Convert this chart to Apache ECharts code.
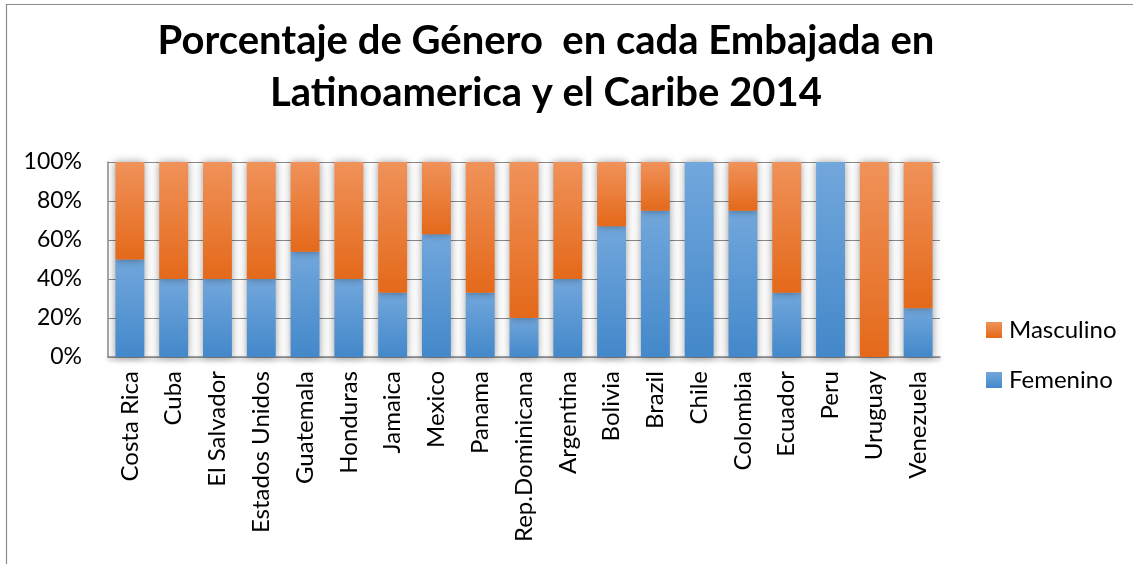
<!DOCTYPE html>
<html>
<head>
<meta charset="utf-8">
<script src="https://cdn.jsdelivr.net/npm/echarts@6/dist/echarts.min.js"></script>
<style>
  html, body { margin: 0; padding: 0; background: #fff; }
  #chart { width: 1133px; height: 564px; }
</style>
</head>
<body>
<div id="chart"></div>
<script>
const countries = ['Costa Rica', 'Cuba', 'El Salvador', 'Estados Unidos', 'Guatemala', 'Honduras',
  'Jamaica', 'Mexico', 'Panama', 'Rep.Dominicana', 'Argentina', 'Bolivia', 'Brazil', 'Chile',
  'Colombia', 'Ecuador', 'Peru', 'Uruguay', 'Venezuela'];
const femenino = [50, 40, 40, 40, 54, 40, 33, 63, 33, 20, 40, 67, 75, 100, 75, 33, 100, 0, 25];
const masculino = [50, 60, 60, 60, 46, 60, 67, 37, 67, 80, 60, 33, 25, 0, 25, 67, 0, 100, 75];
const yTicks = [0, 20, 40, 60, 80, 100];

const font = 'Lato, "Open Sans", sans-serif';

function grad(top, bottom) {
  return new echarts.graphic.LinearGradient(0, 0, 0, 1, [
    { offset: 0, color: top },
    { offset: 1, color: bottom }
  ]);
}

const chart = echarts.init(document.getElementById('chart'));
chart.setOption({
  animation: false,
  graphic: [{
    type: 'rect',
    shape: { x: 6.5, y: 4.5, width: 1200, height: 700 },
    style: { fill: 'none', stroke: '#8c8c8c', lineWidth: 1.2 },
    silent: true
  }],
  title: {
    text: 'Porcentaje de Género  en cada Embajada en\nLatinoamerica y el Caribe 2014',
    left: 541,
    textAlign: 'center',
    top: 10,
    textStyle: { fontFamily: font, fontWeight: 'bold', fontSize: 40, lineHeight: 52, color: '#000' }
  },
  legend: {
    orient: 'vertical',
    left: 981,
    top: 313,
    itemWidth: 16,
    itemHeight: 16,
    itemGap: 26,
    icon: 'rect',
    data: ['Masculino', 'Femenino'],
    textStyle: { fontFamily: font, fontSize: 24, color: '#000', padding: [0, 0, 0, 2] }
  },
  grid: { left: 108, right: 193, top: 162, bottom: 207 },
  xAxis: {
    type: 'category',
    data: countries,
    axisLine: { lineStyle: { color: '#8a8a8a', width: 1.5, shadowColor: 'rgba(0,0,0,0.4)', shadowBlur: 4, shadowOffsetY: 2 } },
    axisTick: { show: false },
    axisLabel: { rotate: 90, fontFamily: font, fontSize: 24, color: '#000', margin: 14, interval: 0 }
  },
  yAxis: {
    type: 'value',
    min: 0,
    max: 100,
    interval: 20,
    axisLine: { show: true, lineStyle: { color: '#8a8a8a', width: 1.5 } },
    axisTick: { show: false },
    axisLabel: { formatter: '{value}%', fontFamily: font, fontSize: 23, color: '#000', margin: 26 },
    splitLine: { lineStyle: { color: '#8a8a8a', width: 1.2 } }
  },
  series: [
    {
      name: 'Femenino',
      type: 'bar',
      stack: 'total',
      barCategoryGap: '34%',
      data: femenino,
      itemStyle: {
        color: grad('#72a7dc', '#4388ca'),
        shadowColor: 'rgba(0,0,0,0.4)',
        shadowBlur: 8
      }
    },
    {
      name: 'Masculino',
      type: 'bar',
      stack: 'total',
      barCategoryGap: '34%',
      data: masculino,
      itemStyle: {
        color: grad('#f0925a', '#e4691a'),
        shadowColor: 'rgba(0,0,0,0.4)',
        shadowBlur: 8
      }
    }
  ],
  color: ['#5b9bd5', '#ed7d31']
});
</script>
</body>
</html>
